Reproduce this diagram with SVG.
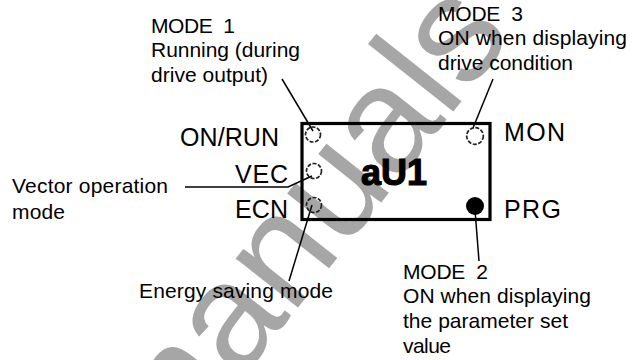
<svg xmlns="http://www.w3.org/2000/svg" width="639" height="360" viewBox="0 0 639 360">
<style>
text{font-family:"Liberation Sans",Arial,sans-serif;fill:#000}
.s{font-size:21px}
.l{font-size:25px}
.wm{font-size:150px;fill:#a6a6a6}
.c{fill:none;stroke:#000;stroke-width:1.5}
.led{fill:none;stroke:#222;stroke-width:1.7;stroke-dasharray:4 1.6}
</style>
<rect width="639" height="360" fill="#fff"/>
<g id="watermark"><text class="wm" transform="translate(162,479) rotate(-51.6)">manuals</text></g>
<g id="connectors">
<polyline class="c" points="282,79 313,131"/>
<polyline class="c" points="493,79 473,128"/>
<polyline class="c" points="185,187 288,187 312,176"/>
<polyline class="c" points="312,205 289,281"/>
<polyline class="c" points="475,210 479,261"/>
</g>
<g id="display">
<rect x="302" y="123.5" width="188" height="96" fill="none" stroke="#000" stroke-width="3.2"/>
<text x="361" y="185" font-size="37" font-weight="bold" stroke="#000" stroke-width="1.2" textLength="66" lengthAdjust="spacingAndGlyphs">aU1</text>
</g>
<g id="led-run"><circle class="led" cx="313" cy="134.5" r="7.5"/><text class="l" x="180" y="146" textLength="99">ON/RUN</text></g>
<g id="led-vec"><circle class="led" cx="314" cy="171" r="7.5"/><text class="l" x="235" y="183" textLength="53">VEC</text></g>
<g id="led-ecn"><circle class="led" cx="314" cy="205" r="7.5"/><text class="l" x="235" y="218" textLength="53">ECN</text></g>
<g id="led-mon"><circle class="led" cx="475" cy="136" r="8.3"/><text class="l" x="504" y="141" textLength="61">MON</text></g>
<g id="led-prg"><circle cx="475" cy="206" r="9" fill="#000"/><text class="l" x="504" y="218" textLength="57">PRG</text></g>
<g id="note-mode1">
<text class="s" x="151" y="33" xml:space="preserve" textLength="84">MODE  1</text>
<text class="s" x="151" y="57" textLength="149">Running (during</text>
<text class="s" x="151" y="82" textLength="117">drive output)</text>
</g>
<g id="note-mode3">
<text class="s" x="438" y="21" xml:space="preserve" textLength="85">MODE  3</text>
<text class="s" x="438" y="45" textLength="189">ON when displaying</text>
<text class="s" x="438" y="70" textLength="135">drive condition</text>
</g>
<g id="note-mode2">
<text class="s" x="403" y="279" xml:space="preserve" textLength="85">MODE  2</text>
<text class="s" x="403" y="303" textLength="188">ON when displaying</text>
<text class="s" x="403" y="328" textLength="165">the parameter set</text>
<text class="s" x="403" y="353" textLength="48">value</text>
</g>
<g id="note-vec">
<text class="s" x="12" y="193" textLength="156">Vector operation</text>
<text class="s" x="12" y="219" textLength="53">mode</text>
</g>
<g id="note-ecn">
<text class="s" x="139" y="298" textLength="194">Energy saving mode</text>
</g>
</svg>
